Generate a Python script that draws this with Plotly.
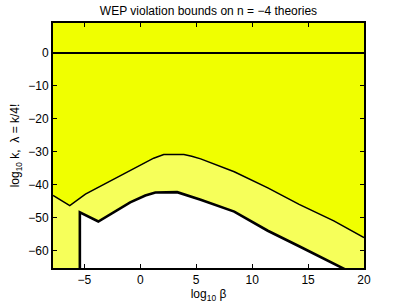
import plotly.graph_objects as go

# Axis extents (log10 beta, log10 k)
x_min, x_max = -7.8, 20.0
y_min, y_max = -65.2, 9.1

# Upper bound curve (thin line): boundary of strongly excluded region
upper_x = [-7.8, -6.3, -4.9, -2.4, 0.45, 1.2, 2.1, 3.9, 4.6, 5.4, 8.4, 11.4, 14.2, 17.3, 20.0]
upper_y = [-43.2, -46.3, -42.8, -38.4, -33.4, -31.9, -30.8, -30.8, -31.3, -32.1, -36.0, -40.9, -45.9, -50.9, -56.0]

# Lower bound curve (thick line), starting with a vertical wall
lower_x = [-5.4, -5.4, -3.75, -0.9, 0.45, 1.35, 3.3, 5.4, 8.4, 11.4, 14.2, 17.5, 20.0]
lower_y = [-65.2, -48.3, -51.1, -45.3, -43.2, -42.3, -42.2, -44.5, -48.1, -53.9, -58.6, -64.2, -68.5]

# Horizontal reference line at log10 k = 0
ref_x = [x_min, x_max]
ref_y = [0, 0]

BRIGHT = "rgb(240,255,0)"
LIGHT = "rgb(246,255,90)"
FONT = "Liberation Sans, Arial"

fig = go.Figure()

# Light-yellow band below the upper curve down to the axis bottom
fig.add_trace(go.Scatter(
    x=upper_x + [x_max, x_min], y=upper_y + [y_min, y_min],
    fill="toself", fillcolor=LIGHT, mode="none", hoverinfo="skip", showlegend=False))

# White allowed region below the lower curve
fig.add_trace(go.Scatter(
    x=lower_x + [x_max, lower_x[0]], y=lower_y + [y_min - 10, y_min - 10],
    fill="toself", fillcolor="white", mode="none", hoverinfo="skip", showlegend=False))

# Bright-yellow region above the upper curve
fig.add_trace(go.Scatter(
    x=upper_x + [x_max, x_min], y=upper_y + [y_max, y_max],
    fill="toself", fillcolor=BRIGHT, mode="none", hoverinfo="skip", showlegend=False))

# Boundary lines
fig.add_trace(go.Scatter(x=upper_x, y=upper_y, mode="lines",
                         line=dict(color="black", width=1.5), showlegend=False))
fig.add_trace(go.Scatter(x=lower_x, y=lower_y, mode="lines",
                         line=dict(color="black", width=2.6), showlegend=False))
fig.add_trace(go.Scatter(x=ref_x, y=ref_y, mode="lines",
                         line=dict(color="black", width=2), showlegend=False))

axis_common = dict(
    showgrid=False, zeroline=False, showline=True, linecolor="black", linewidth=2,
    mirror="ticks", ticks="inside", ticklen=4, tickwidth=1, tickcolor="black",
    automargin=False,
    tickfont=dict(family=FONT, size=12, color="black"),
)

fig.update_xaxes(range=[x_min, x_max], tickvals=[-5, 0, 5, 10, 15, 20],
                 title=dict(text="log<sub>10</sub> β", standoff=2,
                            font=dict(family=FONT, size=12, color="black")),
                 **axis_common)
fig.update_yaxes(range=[y_min, y_max], tickvals=[-60, -50, -40, -30, -20, -10, 0],
                 title=dict(text="log<sub>10</sub> k,  λ = k/4!", standoff=6,
                            font=dict(family=FONT, size=12, color="black")),
                 **axis_common)

fig.update_layout(
    width=403, height=304,
    margin=dict(l=53, r=39, t=23, b=36, autoexpand=False),
    paper_bgcolor="white", plot_bgcolor="white",
    title=dict(text="WEP violation bounds on n = −4 theories", x=0.5, xref="paper",
               xanchor="center", y=1 - 11 / 304, yref="container", yanchor="middle",
               font=dict(family=FONT, size=12, color="black")),
    showlegend=False,
)

fig.write_html("out.html", config={"displayModeBar": False},
               post_script="document.body.style.margin='0';document.body.style.overflow='hidden';")
